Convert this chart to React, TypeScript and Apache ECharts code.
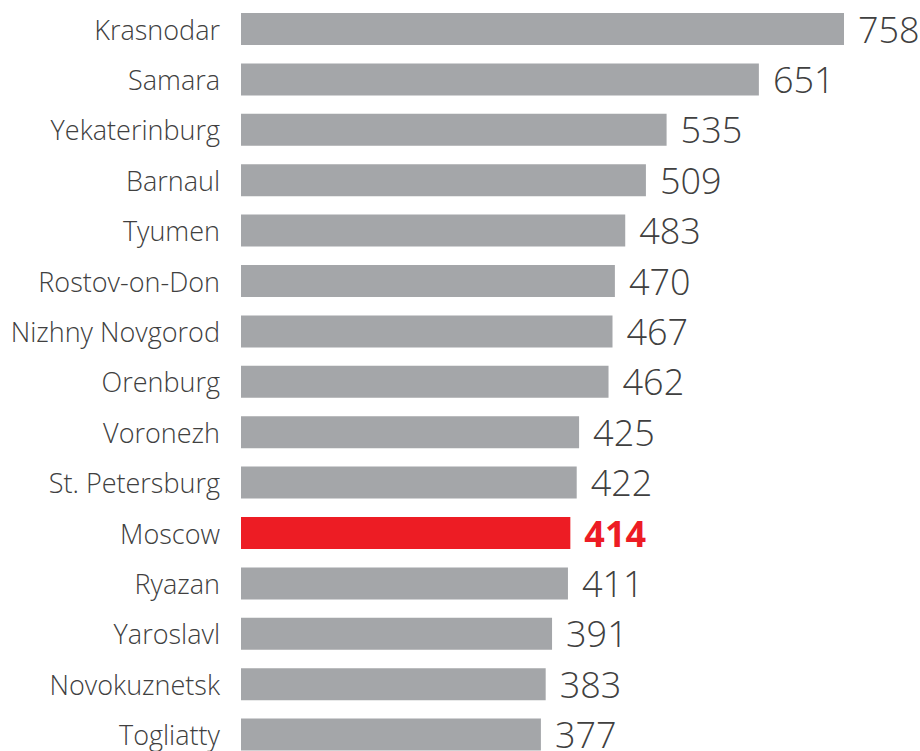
import React, { useEffect, useRef } from "react";
import * as echarts from "echarts";

const cities = [
  "Krasnodar", "Samara", "Yekaterinburg", "Barnaul", "Tyumen", "Rostov-on-Don",
  "Nizhny Novgorod", "Orenburg", "Voronezh", "St. Petersburg", "Moscow", "Ryazan",
  "Yaroslavl", "Novokuznetsk", "Togliatty",
];
const values = [758, 651, 535, 509, 483, 470, 467, 462, 425, 422, 414, 411, 391, 383, 377];
const highlight = "Moscow";

export default function App() {
  const ref = useRef<HTMLDivElement>(null);
  useEffect(() => {
    document.body.style.margin = "0";
    const chart = echarts.init(ref.current!, null, { renderer: "svg" });
    const font = "'Open Sans', sans-serif";
    chart.setOption({
      animation: false,
      grid: { left: 241, top: 3.8, width: 603, height: 756, containLabel: false, outerBoundsMode: "none" },
      xAxis: { type: "value", min: 0, max: 758, show: false },
      yAxis: {
        type: "category",
        inverse: true,
        data: cities,
        axisLine: { show: false },
        axisTick: { show: false },
        axisLabel: { margin: 21, fontSize: 27, fontWeight: 300, color: "#404040", fontFamily: font },
      },
      series: [
        {
          type: "bar",
          barWidth: 32,
          data: values.map((v, i) => {
            const hi = cities[i] === highlight;
            return {
              value: v,
              itemStyle: { color: hi ? "#ed1c24" : "#a4a6a9" },
              label: hi
                ? { color: "#ed1c24", fontWeight: "bold" }
                : { color: "#404040", fontWeight: 300 },
            };
          }),
          label: {
            show: true,
            position: "right",
            distance: 14,
            fontSize: 36,
            fontFamily: font,
          },
        },
      ],
    });
    return () => chart.dispose();
  }, []);
  return <div ref={ref} style={{ width: 920, height: 751 }} />;
}
